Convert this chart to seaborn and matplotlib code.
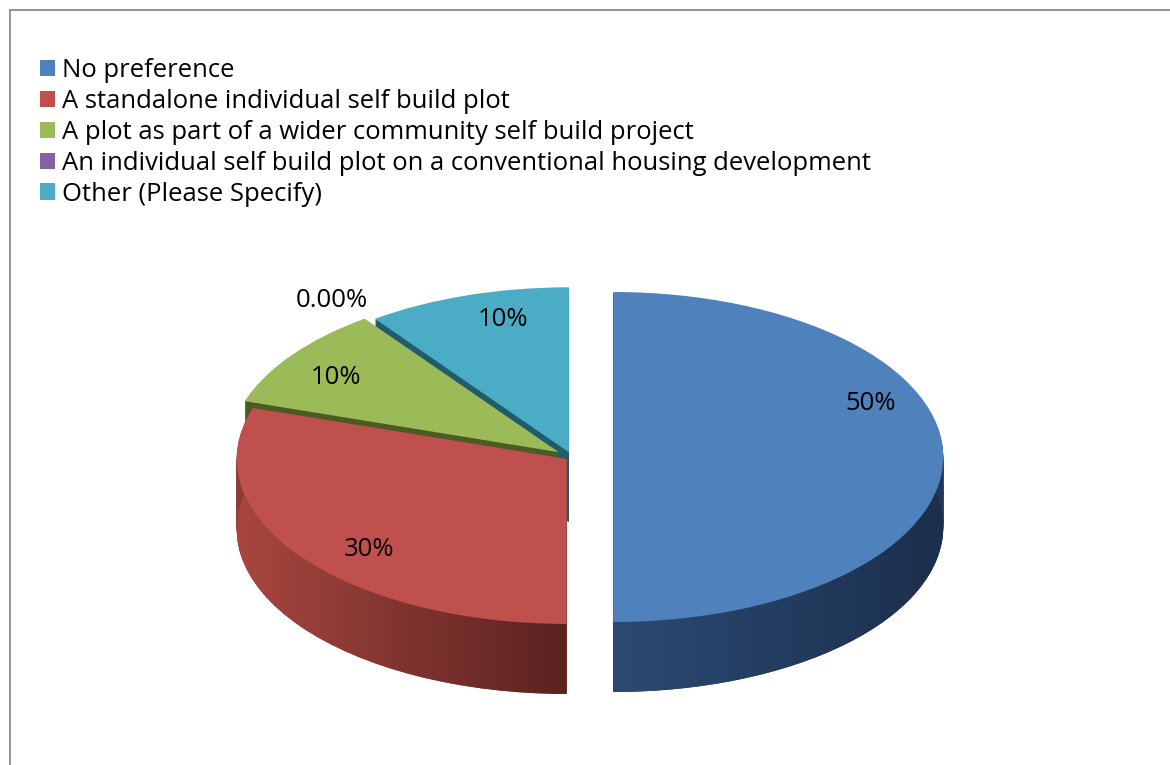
import numpy as np
import matplotlib
matplotlib.use("Agg")
import matplotlib.pyplot as plt
import seaborn as sns
from matplotlib.patches import Rectangle
from matplotlib.colors import LinearSegmentedColormap

# ---------------- data ----------------
categories = [
    "No preference",
    "A standalone individual self build plot",
    "A plot as part of a wider community self build project",
    "An individual self build plot on a conventional housing development",
    "Other (Please Specify)",
]
values = [50, 30, 10, 0, 10]
value_labels = ["50%", "30%", "10%", "0.00%", "10%"]

# ---------------- style ----------------
top_colors = ["#4f81bd", "#c0504d", "#9bbb59", "#8064a2", "#4bacc6"]
wall_colors = ["#22385a", "#8e3a37", "#4c5a26", "#3b2b4f", "#215c6a"]
explode_frac = [0.125, 0.02, 0.05, 0.045, 0.03]
label_pos_px = [(871, 403), (369, 549), (336, 377), (332, 300), (503, 319)]

sns.set_theme(style="white")
FONT = ["Open Sans", "DejaVu Sans"]
plt.rcParams["font.family"] = FONT
plt.rcParams["text.color"] = "black"

W, H = 1170, 765
fig = plt.figure(figsize=(W / 100, H / 100), dpi=100)
ax = fig.add_axes([0, 0, 1, 1])

YS = 2.0                 # data-y units per pixel (squashes circles into ellipses)
cx, cy_px, R = 572, 457, 330
depth_px = 70
n_layers = 70
explode = [e * R for e in explode_frac]

def center_at(d):
    return (cx, -(cy_px + d) * YS)

# side walls: stacked pies from bottom to top
bottom_wedges = None
for k in range(n_layers, 0, -1):
    d = depth_px * k / n_layers
    w, *_ = ax.pie(values, colors=wall_colors, explode=explode, startangle=90,
                   counterclock=False, radius=R, center=center_at(d),
                   wedgeprops=dict(linewidth=0, zorder=1), normalize=True)
    if bottom_wedges is None:
        bottom_wedges = w

# horizontal shading on front walls (red and blue)
def shade(wedge, c_left, c_right):
    ext = wedge.get_path().get_extents()
    cmap = LinearSegmentedColormap.from_list("g", [c_left, c_right])
    grad = np.linspace(0, 1, 256)[None, :]
    im = ax.imshow(grad, cmap=cmap, aspect="auto", zorder=1.5,
                   extent=(ext.x0, ext.x1, ext.y0, ext.y1 + depth_px * YS),
                   interpolation="bilinear")
    im.set_clip_path(wedge)

shade(bottom_wedges[1], "#a8463f", "#5a2220")
shade(bottom_wedges[0], "#2b4a74", "#1c2f4c")

# top faces
top_wedges, *_ = ax.pie(values, colors=top_colors, explode=explode, startangle=90,
                        counterclock=False, radius=R, center=center_at(0),
                        wedgeprops=dict(linewidth=0, zorder=3), normalize=True)

# fit font size so the longest legend entry spans ~808 px like the reference
renderer = fig.canvas.get_renderer()
probe = fig.text(0, 0, categories[3], fontsize=20)
fs = 20 * 808 / probe.get_window_extent(renderer).width
probe.remove()

# value labels
for txt, (px, py) in zip(value_labels, label_pos_px):
    ax.text(px, -py * YS, txt, ha="center", va="center", fontsize=fs,
            color="black", zorder=5)

ax.set_aspect("auto")
ax.set_xlim(0, W)
ax.set_ylim(-H * YS, 0)
ax.axis("off")

# legend
leg = fig.legend(top_wedges, categories, loc="upper left",
                 bbox_to_anchor=(40 / W, 1 - 58 / H), frameon=False,
                 fontsize=fs, handlelength=0.6, handleheight=0.6,
                 handletextpad=0.25, labelspacing=0.23, borderaxespad=0,
                 borderpad=0, labelcolor="black")

# outer chart frame
fig.patches.append(Rectangle((10 / W, -0.1), 1.2, 1.1 - 10.5 / H,
                             transform=fig.transFigure, fill=False,
                             edgecolor="#8c8c8c", linewidth=1.3))

fig.savefig("out.png", dpi=100)
